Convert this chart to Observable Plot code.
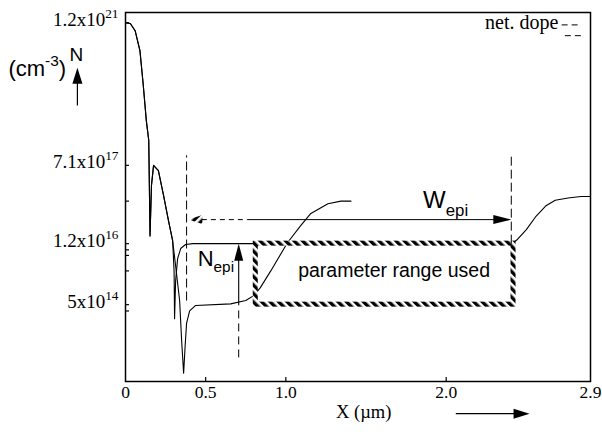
<!DOCTYPE html>
<html><head><meta charset="utf-8">
<script src="https://cdn.jsdelivr.net/npm/d3@7"></script>
<script src="https://cdn.jsdelivr.net/npm/@observablehq/plot@0.6"></script>
<style>body{margin:0;background:#fff}</style>
</head><body><div id="chart"></div>
<script>
// ---------- data (x in µm, N in cm^-3) ----------
const substrateX = [0, 0.03, 0.06, 0.09, 0.11, 0.13, 0.145, 0.153, 0.162, 0.175, 0.205, 0.237, 0.268, 0.294];
const substrateN = [1.2e21, 1.15e21, 7.9e20, 2.8e20, 5.0e19, 7.2e18, 2.6e18, 1.8e16, 2.5e17, 7.1e17, 5.4e17, 1.5e17, 4.0e16, 1.4e16];
const epiHighX = [0.303, 0.306, 0.3125, 0.325, 0.344, 0.375, 0.42, 2.41, 2.44, 2.5, 2.56, 2.62, 2.68, 2.76, 2.84, 2.9];
const epiHighN = [2.9e15, 2.4e14, 1.7e15, 5.5e15, 9.3e15, 1.15e16, 1.2e16, 1.2e16, 1.45e16, 2.5e16, 5e16, 8.5e16, 1.15e17, 1.3e17, 1.4e17, 1.4e17];
const epiLowX = [0.3125, 0.3375, 0.35, 0.3625, 0.372, 0.381, 0.40, 0.4375, 0.656, 0.75, 0.80, 0.84, 0.906, 1.01, 1.094, 1.156, 1.2625, 1.344, 1.406];
const epiLowN = [3.8e15, 6.2e14, 7.8e13, 1.4e13, 5.9e13, 1.9e14, 3.6e14, 4.8e14, 5.2e14, 6.2e14, 8e14, 1.2e15, 2.9e15, 1.26e16, 3.1e16, 5.8e16, 9.6e16, 1.1e17, 1.1e17];

const yTickValues = [5e14, 1.2e16, 7.1e17, 1.2e21];
const yTickLabels = ["5x10^{14}", "1.2x10^{16}", "7.1x10^{17}", "1.2x10^{21}"];
const yMinorTicks = [3.6e14, 2.9e15, 6.5e15, 8.7e15, 1.1e17];
const xTickValues = [0, 0.5, 1.0, 2.0, 2.9];
const xTickLabels = ["0", "0.5", "1.0", "2.0", "2.9"];
const xMinorTicks = [0.5, 1.0, 2.0];

// annotation values
const nepiRange = [5e14, 1.2e16];      // parameter range of N_epi
const wepiRange = [0.381, 2.406];      // W_epi extent
const boxX = [0.8125, 2.42];
const nepiArrowX = 0.706;
const wepiArrowN = 4.2e16;

// ---------- build tables ----------
const curves = [
  ...substrateX.map((x, i) => ({x, N: substrateN[i], s: "high"})),
  ...epiHighX.map((x, i) => ({x, N: epiHighN[i], s: "high"})),
  ...substrateX.map((x, i) => ({x, N: substrateN[i], s: "low"})),
  ...epiLowX.map((x, i) => ({x, N: epiLowN[i], s: "low"}))
];
const yTicks = yTickValues.map((v, i) => ({v, label: yTickLabels[i]}));
const xTicks = xTickValues.map((v, i) => ({v, label: xTickLabels[i]}));

const head = (len, half) => ({draw(ctx) { ctx.moveTo(0, 0); ctx.lineTo(half, len); ctx.lineTo(-half, len); ctx.closePath(); }});

const serif = "Liberation Serif";
const sans = "Liberation Sans";
const HATCH = "#010101"; // placeholder colour, replaced by the hatch pattern

const plot = Plot.plot({
  width: 602, height: 434,
  marginLeft: 125, marginRight: 12, marginTop: 12, marginBottom: 53,
  style: {fontFamily: serif, fontSize: "17px", background: "white", color: "black", overflow: "visible"},
  x: {domain: [0, 2.9], axis: null},
  y: {type: "log", domain: [Math.pow(10, 12.96), Math.pow(10, 21.31)], axis: null},
  marks: [
    Plot.frame({stroke: "black", strokeWidth: 1.5}),
    Plot.tickY([...yTickValues, ...yMinorTicks], {y: d => d, insetRight: 461, stroke: "black", strokeWidth: 1.2}),
    Plot.tickX(xMinorTicks, {x: d => d, insetTop: 365, stroke: "black", strokeWidth: 1.2}),
    Plot.text(yTicks, {y: "v", text: "label", frameAnchor: "left", textAnchor: "end", dx: -7, dy: -3, fontSize: 19, fontFamily: serif}),
    Plot.text(xTicks, {x: "v", text: "label", frameAnchor: "bottom", lineAnchor: "top", dy: 4, fontSize: 17.5, fontFamily: serif}),

    // profiles
    Plot.line(curves, {x: "x", y: "N", z: "s", stroke: "black", strokeWidth: 1.1}),

    // parameter range box
    Plot.rect([0], {x1: boxX[0], x2: boxX[1], y1: nepiRange[0], y2: nepiRange[1], fill: "none", stroke: HATCH, strokeWidth: 5}),
    Plot.text(["parameter range used"], {x: 1.675, y: 2.95e15, text: d => d, fontFamily: sans, fontSize: 19.5, textAnchor: "middle"}),

    // W_epi boundaries
    Plot.link([0], {x1: wepiRange[0], x2: wepiRange[0], y1: 6.2e14, y2: 1.2e18, stroke: "black", strokeDasharray: "9,4", strokeWidth: 1}),
    Plot.link([0], {x1: wepiRange[1], x2: wepiRange[1], y1: 1.2e16, y2: 1.2e18, stroke: "black", strokeDasharray: "9,4", strokeWidth: 1}),
    // W_epi arrow
    Plot.link([0], {x1: 0.42, x2: 0.7625, y1: wepiArrowN, y2: wepiArrowN, stroke: "black", strokeDasharray: "5,4", strokeWidth: 1}),
    Plot.link([0], {x1: 0.7625, x2: 2.39, y1: wepiArrowN, y2: wepiArrowN, stroke: "black", strokeWidth: 1}),
    Plot.dot([0], {x: wepiRange[1], y: wepiArrowN, symbol: head(18, 4.5), rotate: 90, fill: "black", stroke: "none"}),
    Plot.dot([0], {x: 0.392, y: wepiArrowN, symbol: head(14, 4.5), rotate: -90, fill: HATCH, stroke: "none"}),
    Plot.text(["W_{epi}"], {x: 1.856, y: 7.5e16, text: d => d, fontFamily: sans, fontSize: 24, textAnchor: "start", lineAnchor: "bottom"}),

    // N_epi arrow
    Plot.link([0], {x1: nepiArrowX, x2: nepiArrowX, y1: nepiRange[0], y2: 8e15, stroke: "black", strokeWidth: 1.1}),
    Plot.link([0], {x1: nepiArrowX, x2: nepiArrowX, y1: 3.2e13, y2: nepiRange[0], stroke: "black", strokeDasharray: "8,5", strokeWidth: 1}),
    Plot.dot([0], {x: nepiArrowX, y: nepiRange[1], symbol: head(17, 4.5), rotate: 0, fill: "black", stroke: "none"}),
    Plot.text(["N_{epi}"], {x: 0.45, y: 3.8e15, text: d => d, fontFamily: sans, fontSize: 22, textAnchor: "start", lineAnchor: "bottom"}),

    // legend
    Plot.text(["net. dope"], {x: 2.70, y: 8.7e20, text: d => d, fontFamily: serif, fontSize: 20, textAnchor: "end", lineAnchor: "bottom"}),
    Plot.link([0], {x1: 2.72, x2: 2.84, y1: 1.07e21, y2: 1.07e21, stroke: "black", strokeDasharray: "6,4", strokeWidth: 1}),
    Plot.link([0], {x1: 2.74, x2: 2.84, y1: 6.1e20, y2: 6.1e20, stroke: "black", strokeDasharray: "6,4", strokeWidth: 1}),

    // y-axis title and arrow (left margin)
    Plot.text(["(cm^{-3})"], {x: -0.73, y: 7.6e19, text: d => d, fontFamily: sans, fontSize: 22, textAnchor: "start", lineAnchor: "bottom"}),
    Plot.text(["N"], {x: -0.35, y: 1.66e20, text: d => d, fontFamily: sans, fontSize: 19, textAnchor: "start", lineAnchor: "bottom"}),
    Plot.link([0], {x1: -0.30, x2: -0.30, y1: 1.6e19, y2: 8e19, stroke: "black", strokeWidth: 1.2}),
    Plot.dot([0], {x: -0.30, y: 1.15e20, symbol: head(16, 5), rotate: 0, fill: "black", stroke: "none"}),

    // x-axis title and arrow (bottom margin)
    Plot.text(["X (\u00b5m)"], {x: 1.313, y: 1.39e12, text: d => d, fontFamily: serif, fontSize: 18.5, textAnchor: "start", lineAnchor: "bottom"}),
    Plot.link([0], {x1: 2.06, x2: 2.45, y1: 1.71e12, y2: 1.71e12, stroke: "black", strokeWidth: 1.2}),
    Plot.dot([0], {x: 2.52, y: 1.71e12, symbol: head(16, 5), rotate: 90, fill: "black", stroke: "none"})
  ]
});

document.getElementById("chart").appendChild(plot);

// hatch pattern for the parameter-range box and the open arrow head
const svg = d3.select(plot);
const defs = svg.insert("defs", ":first-child");
const pat = defs.append("pattern").attr("id", "hatch").attr("patternUnits", "userSpaceOnUse")
  .attr("width", 6).attr("height", 6).attr("patternTransform", "rotate(-45)");
pat.append("rect").attr("width", 6).attr("height", 6).attr("fill", "white");
pat.append("rect").attr("width", 3.4).attr("height", 6).attr("fill", "black");
svg.selectAll(`[stroke="${HATCH}"]`).attr("stroke", "url(#hatch)");
svg.selectAll(`[fill="${HATCH}"]`).attr("fill", "url(#hatch)");

// rich text: ^{..} superscript, _{..} subscript
function richify(root) {
  root.querySelectorAll("text").forEach(el => {
    const s = el.textContent;
    if (!/[\^_]\{/.test(s)) return;
    const fs = parseFloat(getComputedStyle(el).fontSize) || 17;
    const re = /([\^_])\{([^}]*)\}/g;
    let last = 0, m, shift = 0;
    el.textContent = "";
    const add = (t, kind) => {
      const ts = document.createElementNS("http://www.w3.org/2000/svg", "tspan");
      const target = kind === "^" ? -0.42 * fs : kind === "_" ? 0.3 * fs : 0;
      ts.setAttribute("dy", target - shift);
      shift = target;
      if (kind) ts.setAttribute("font-size", 0.7 * fs);
      ts.textContent = t;
      el.appendChild(ts);
    };
    while ((m = re.exec(s))) {
      if (m.index > last) add(s.slice(last, m.index));
      add(m[2], m[1]);
      last = re.lastIndex;
    }
    if (last < s.length) add(s.slice(last));
  });
}
richify(plot);
</script>
</body></html>
